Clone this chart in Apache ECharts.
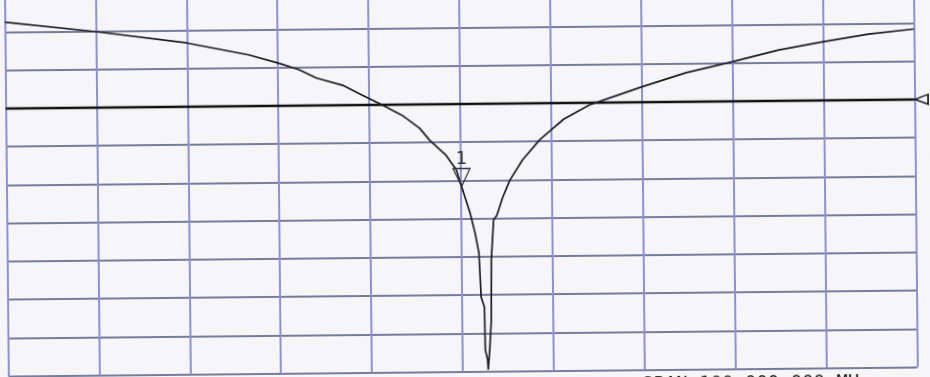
<!DOCTYPE html>
<html>
<head>
<meta charset="utf-8">
<script src="https://cdn.jsdelivr.net/npm/echarts@6/dist/echarts.min.js"></script>
<style>
  html, body { margin: 0; width: 930px; height: 377px; overflow: hidden; background: #f6f6f8; }
  /* the scan is tilted a little, right side higher */
  #chart { position: absolute; left: 0; top: -20px; width: 930px; height: 420px;
           transform: rotate(-0.57deg); transform-origin: 465px 208.5px; }
</style>
</head>
<body>
<div id="chart"></div>
<script>
// frequency inside the 100 MHz span, MHz
const freqMHz = [0, 10, 20, 26.8, 30, 32.3, 34.2, 37.1, 39.2, 41.4, 43.6, 45.5, 46.6, 48.4, 49.5, 50.07,
  50.98, 51.5, 51.9, 52.1, 52.45, 52.5, 52.75, 52.8,
  52.99, 53.19, 53.26, 53.55, 53.92, 54.6, 55.4, 56.8, 58.7, 60.0, 61.4, 64.2, 66.7, 70.0, 74.9,
  79.9, 85.1, 89.8, 95.0, 100]
// trace level, dB (5 dB/div, top = 0)
const traceDb = [-3.7, -5.06, -6.66, -8.3, -9.39, -10.3, -11.4, -12.4, -13.7, -15.0, -16.4, -18.1, -19.7, -21.7, -23.6, -25.8,
  -29.3, -31.9, -34.5, -40.3, -41.6, -47.2, -48.5, -49.8,
  -47.2, -43.3, -35.4, -30.2, -29.6, -27.2, -25.0, -22.4, -19.8, -18.5, -17.1, -15.3, -14.3, -13.0, -11.2,
  -9.86, -8.35, -7.36, -6.38, -5.78]
const refDb = -15
const marker1 = [50.07, -25.8]
const spanText = 'SPAN 100.000 000 MHz'

const traceData = freqMHz.map((f, i) => [f, traceDb[i]])

const chart = echarts.init(document.getElementById('chart'))
chart.setOption({
  animation: false,
  backgroundColor: '#f6f6f8',
  grid: { left: 6.5, top: 9.3, width: 909, height: 382.2 },
  xAxis: {
    type: 'value', min: 0, max: 100, interval: 10,
    axisLine: { show: false }, axisTick: { show: false }, axisLabel: { show: false },
    splitLine: { show: true, showMinLine: true, showMaxLine: true, lineStyle: { color: '#9090d8', width: 2 } }
  },
  yAxis: {
    type: 'value', min: -50, max: 0, interval: 5,
    axisLine: { show: false }, axisTick: { show: false }, axisLabel: { show: false },
    splitLine: { show: true, showMinLine: true, showMaxLine: true, lineStyle: { color: '#767c9c', width: 2 } }
  },
  graphic: [{
    type: 'text', left: 640, top: 398,
    style: { text: spanText, fontSize: 19, fontFamily: 'DejaVu Sans Mono', fill: '#222' }
  }],
  series: [
    {
      type: 'line',
      data: [[0, refDb], [100, refDb]],
      showSymbol: false,
      z: 2,
      lineStyle: { color: '#111', width: 2.4 },
      markPoint: {
        symbol: 'triangle', symbolSize: [10, 13], symbolRotate: 90, symbolOffset: [7, 0],
        itemStyle: { color: '#f6f6f8', borderColor: '#111', borderWidth: 1.5 },
        label: { show: false },
        data: [{ coord: [100, refDb] }]
      }
    },
    {
      type: 'line',
      data: traceData,
      showSymbol: false,
      z: 3,
      lineStyle: { color: '#1c1c24', width: 1.7 },
      markPoint: {
        symbol: 'triangle', symbolSize: [17, 18], symbolRotate: 180, symbolOffset: [0, -9],
        itemStyle: { color: 'rgba(0,0,0,0)', borderColor: '#3a3548', borderWidth: 1.3 },
        label: {
          show: true, position: 'top', distance: 0, formatter: '1',
          fontSize: 18, fontFamily: 'DejaVu Sans', color: '#333'
        },
        data: [{ coord: marker1 }]
      }
    }
  ]
})
</script>
</body>
</html>
